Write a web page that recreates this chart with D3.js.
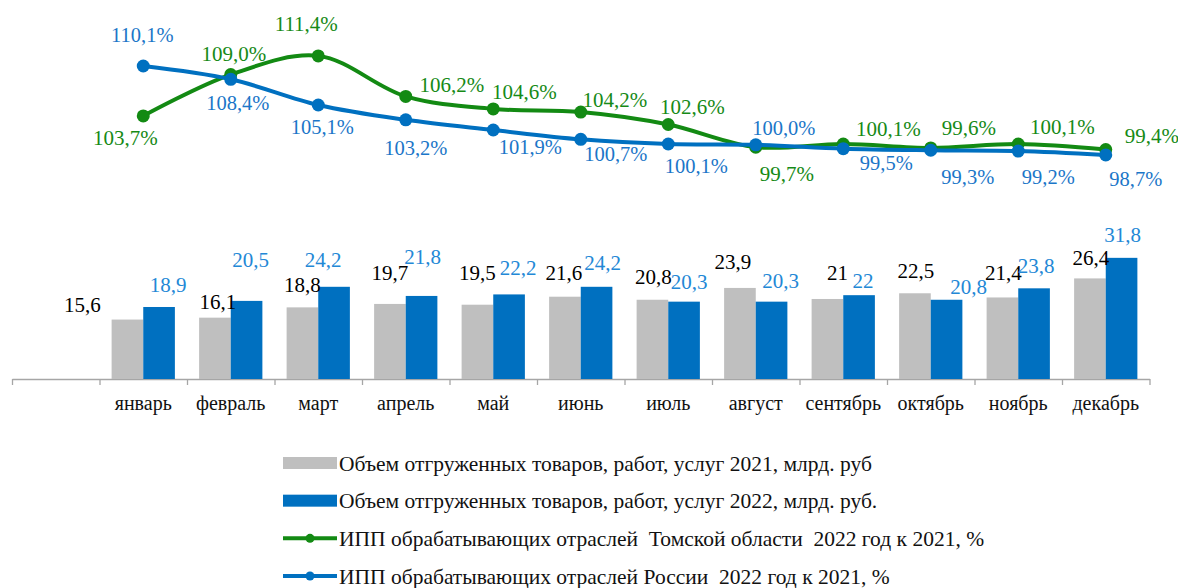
<!DOCTYPE html>
<html><head><meta charset="utf-8">
<script src="https://cdn.jsdelivr.net/npm/d3@7/dist/d3.min.js"></script>
<style>
html,body{margin:0;padding:0;background:#fff;}
svg{display:block;}
svg text{font-family:"Liberation Serif","DejaVu Serif",serif;}
</style></head>
<body><svg id="chart" width="1178" height="588"></svg>
<script>
// ---------------- DATA ----------------
const months = ["январь","февраль","март","апрель","май","июнь","июль","август","сентябрь","октябрь","ноябрь","декабрь"];
const ship2021 = [15.6,16.1,18.8,19.7,19.5,21.6,20.8,23.9,21,22.5,21.4,26.4];
const ship2022 = [18.9,20.5,24.2,21.8,22.2,24.2,20.3,20.3,22,20.8,23.8,31.8];
const ippTomsk = [103.7,109.0,111.4,106.2,104.6,104.2,102.6,99.7,100.1,99.6,100.1,99.4];
const ippRussia = [110.1,108.4,105.1,103.2,101.9,100.7,100.1,100.0,99.5,99.3,99.2,98.7];
const legendLabels = [
  "Объем отгруженных товаров, работ, услуг 2021, млрд. руб",
  "Объем отгруженных товаров, работ, услуг 2022, млрд. руб.",
  "ИПП обрабатывающих отраслей  Томской области  2022 год к 2021, %",
  "ИПП обрабатывающих отраслей России  2022 год к 2021, %"
];

// ---------------- LAYOUT / STYLE ----------------
const FONT = "Liberation Serif";
const SANS = "Noto Sans";
const C = {grey:"#bfbfbf", blue:"#0070c0", green:"#138a13", greenTxt:"#168a16", blueTxt:"#1b76c8", barBlueTxt:"#2388d6", axis:"#a6a6a6"};
// label nudges (px) relative to the mark, as placed in the original
const nudge = {
  g21:{dx:[-45,3,0,0,0,-1,1,-7,10,1,1,1], dy:[-15,-16,-23,-31,-32,-24,-23,-26,-26,-23,-25,-21]},
  g22:{dx:[9,4,-11,1,9,6,5,9,4,22,2,1], dy:[-22,-41,-27,-39,-27,-24,-20,-21,-15,-13,-23,-23]},
  tom:{dx:[-18,3,-12,46,31,34,24,31,45,38,44,46], dy:[22,-21,-32,-12,-17,-12,-18,27,-15,-20,-17,-14]},
  rus:{dx:[-1,7,4,10,37,35,28,28,43,37,30,30], dy:[-31,24,22,28,17,14,22,-17,14,27,26,24]}
};

const svg = d3.select("#chart");
const fmt = v => String(v).replace(".", ",");
const fmtP = v => v.toFixed(1).replace(".", ",") + "%";

const xLeft = 12, xRight = 1149.5;
const x = d3.scaleBand().domain(["__blank"].concat(months)).range([xLeft, xRight]).paddingInner(0).paddingOuter(0);
const inner = d3.scaleBand().domain(["2021","2022"]).range([0, x.bandwidth()]).paddingInner(0).paddingOuter(0.383);
const yBar = d3.scaleLinear().domain([0, 40]).range([379, 226.6]);
const yLine = d3.scaleLinear().domain([95, 115]).range([183.8, 27.8]);

// axis boundaries ticks
const xIdx = d3.scaleLinear().domain([0, months.length + 1]).range([xLeft, xRight]);
const axisG = svg.append("g").attr("transform", `translate(0,${yBar(0)})`)
  .call(d3.axisBottom(xIdx).tickValues(d3.range(months.length + 2)).tickFormat("").tickSizeInner(6).tickSizeOuter(0));
axisG.selectAll("path,line").attr("stroke", C.axis).attr("stroke-width", 1.3);

// month labels
const labG = svg.append("g").attr("transform", `translate(0,${yBar(0)})`)
  .call(d3.axisBottom(x).tickSize(0).tickPadding(0).tickFormat(d => d === "__blank" ? "" : d));
labG.select(".domain").remove();
labG.attr("font-family", FONT);
labG.selectAll("text").attr("font-family", FONT).attr("font-size", 20).attr("fill", "#111").attr("dy", "1.55em");

// bars
const bars = months.map((m, i) => ({m, i, a: ship2021[i], b: ship2022[i]}));
const bg = svg.append("g");
bg.selectAll("rect.a").data(bars).join("rect").attr("class", "a")
  .attr("x", d => x(d.m) + inner("2021")).attr("width", inner.bandwidth())
  .attr("y", d => yBar(d.a)).attr("height", d => yBar(0) - yBar(d.a)).attr("fill", C.grey);
bg.selectAll("rect.b").data(bars).join("rect").attr("class", "b")
  .attr("x", d => x(d.m) + inner("2022")).attr("width", inner.bandwidth())
  .attr("y", d => yBar(d.b)).attr("height", d => yBar(0) - yBar(d.b)).attr("fill", C.blue);

// bar labels
bg.selectAll("text.a").data(bars).join("text").attr("class", "a")
  .attr("x", d => x(d.m) + inner("2021") + inner.bandwidth() / 2 + nudge.g21.dx[d.i])
  .attr("y", d => yBar(d.a) + nudge.g21.dy[d.i])
  .attr("dy", "0.35em").attr("text-anchor", "middle").attr("font-family", FONT).attr("font-size", 21).attr("fill", "#000")
  .text(d => fmt(d.a));
bg.selectAll("text.b").data(bars).join("text").attr("class", "b")
  .attr("x", d => x(d.m) + inner("2022") + inner.bandwidth() / 2 + nudge.g22.dx[d.i])
  .attr("y", d => yBar(d.b) + nudge.g22.dy[d.i])
  .attr("dy", "0.35em").attr("text-anchor", "middle").attr("font-family", FONT).attr("font-size", 21).attr("fill", C.barBlueTxt)
  .text(d => fmt(d.b));

// lines
const cx = m => x(m) + x.bandwidth() / 2;
const line = d3.line().x(d => cx(d.m)).y(d => yLine(d.v)).curve(d3.curveCatmullRom.alpha(0.5));
function drawSeries(vals, color, txtColor, nd, font, size) {
  const pts = months.map((m, i) => ({m, i, v: vals[i]}));
  const g = svg.append("g");
  g.append("path").datum(pts).attr("d", line).attr("fill", "none").attr("stroke", color).attr("stroke-width", 4).attr("stroke-linejoin", "round");
  g.selectAll("circle").data(pts).join("circle").attr("cx", d => cx(d.m)).attr("cy", d => yLine(d.v)).attr("r", 6.5).attr("fill", color);
  return {g, pts, txtColor, nd, font, size};
}
const sT = drawSeries(ippTomsk, C.green, C.greenTxt, nudge.tom, FONT, 21);
const sR = drawSeries(ippRussia, C.blue, C.blueTxt, nudge.rus, SANS, 20.5);
[sT, sR].forEach(s => {
  s.g.selectAll("text").data(s.pts).join("text")
    .attr("x", d => cx(d.m) + s.nd.dx[d.i]).attr("y", d => yLine(d.v) + s.nd.dy[d.i])
    .attr("dy", "0.35em").attr("text-anchor", "middle").attr("font-family", s.font).attr("font-size", s.size).attr("fill", s.txtColor)
    .text(d => fmtP(d.v));
});

// legend
const legY = d3.scalePoint().domain(d3.range(legendLabels.length)).range([463, 576]);
const lg = svg.append("g");
const swX0 = 283, swX1 = 337;
const legendStyle = [
  {type:"rect", color:C.grey},
  {type:"rect", color:C.blue},
  {type:"line", color:C.green},
  {type:"line", color:C.blue}
];
legendLabels.forEach((t, i) => {
  const y = legY(i), st = legendStyle[i];
  if (st.type === "rect") {
    lg.append("rect").attr("x", swX0).attr("y", y - 6).attr("width", swX1 - swX0).attr("height", 12).attr("fill", st.color);
  } else {
    lg.append("line").attr("x1", swX0).attr("x2", swX1).attr("y1", y).attr("y2", y).attr("stroke", st.color).attr("stroke-width", 4);
    lg.append("circle").attr("cx", (swX0 + swX1) / 2).attr("cy", y).attr("r", 4.5).attr("fill", st.color);
  }
  lg.append("text").attr("x", swX1 + 2).attr("y", y).attr("dy", "0.35em").attr("font-family", FONT).attr("font-size", 21.5)
    .attr("fill", "#111").style("white-space", "pre").text(t);
});
</script></body></html>
